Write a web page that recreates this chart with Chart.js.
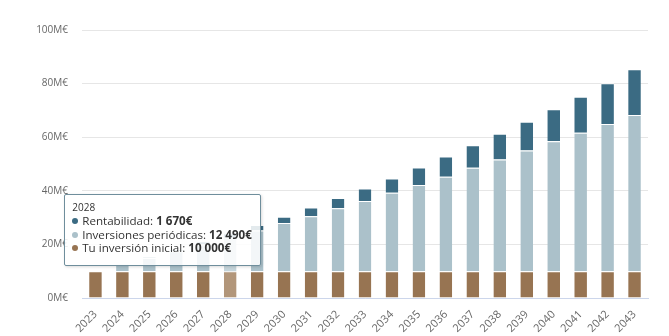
<!DOCTYPE html>
<html lang="es">
<head>
  <meta charset="UTF-8" />
  <title>Simulación de inversión</title>
  <style>
    html, body {
      margin: 0;
      padding: 0;
      background: #fff;
      font-family: "Open Sans", sans-serif;
    }
    #wrap {
      position: relative;
      width: 669px;
      height: 336px;
    }
    #tip {
      position: absolute;
      box-sizing: border-box;
      width: 197px;
      height: 72px;
      background: rgba(255, 255, 255, 0.86);
      border: 1px solid #6f8e9c;
      border-radius: 2px;
      box-shadow: 1px 1px 3px rgba(0, 0, 0, 0.15);
      padding: 6px 4px 6px 7px;
      color: #333;
      font-size: 11.6px;
      line-height: 13.4px;
      white-space: nowrap;
      pointer-events: none;
      display: none;
    }
    #tip .title { font-size: 10px; line-height: 12px; margin-bottom: 1px; }
    #tip .row { height: 13.4px; }
    #tip .dot {
      display: inline-block;
      width: 6px;
      height: 6px;
      border-radius: 50%;
      margin-right: 4px;
      vertical-align: 1px;
    }
    #tip b { font-weight: 700; }
  </style>
</head>
<body>
  <div id="wrap">
    <canvas id="chart" width="669" height="336"></canvas>
    <div id="tip"></div>
  </div>

  <script src="https://cdn.jsdelivr.net/npm/chart.js"></script>
  <script>
    // años y valores (en €)
    const YEARS = ['2023','2024','2025','2026','2027','2028','2029','2030','2031','2032','2033',
                   '2034','2035','2036','2037','2038','2039','2040','2041','2042','2043'];
    const INICIAL = [10000,10000,10000,10000,10000,10000,10000,10000,10000,10000,10000,
                     10000,10000,10000,10000,10000,10000,10000,10000,10000,10000];
    const PERIODICAS = [0,2450,4950,7450,9950,12490,15200,18000,20500,23500,26200,
                        29300,32200,35200,38600,41700,45000,48500,51700,54900,58300];
    const RENTABILIDAD = [0,120,380,750,1180,1670,2000,2300,3300,3800,4700,
                          5300,6500,7600,8400,9600,10800,11900,13400,15200,17100];
    const Y_TICKS = [0, 20000, 40000, 60000, 80000, 100000];
    const ACTIVE = 5; // 2028

    const fmt = v => String(Math.round(v)).replace(/\B(?=(\d{3})+(?!\d))/g, ' ');

    function externalTip(ctx) {
      const el = document.getElementById('tip');
      const tt = ctx.tooltip;
      if (!tt.opacity || !tt.dataPoints || !tt.dataPoints.length) { el.style.display = 'none'; return; }
      const pts = tt.dataPoints.slice().sort((a, b) => b.datasetIndex - a.datasetIndex);
      let html = '<div class="title">' + pts[0].label + '</div>';
      pts.forEach(p => {
        html += '<div class="row"><span class="dot" style="background:' + p.dataset.dotColor + '"></span>' +
                p.dataset.label + ': <b>' + fmt(p.raw) + '€</b></div>';
      });
      el.innerHTML = html;
      el.style.display = 'block';
      const chart = ctx.chart;
      const i = pts[0].dataIndex;
      const x = chart.scales.x.getPixelForValue(i);
      const total = INICIAL[i] + PERIODICAS[i] + RENTABILIDAD[i];
      const y = chart.scales.y.getPixelForValue(total);
      el.style.left = (x - 166) + 'px';
      el.style.top = (y - 39) + 'px';
    }

    const ctx = document.getElementById('chart').getContext('2d');
    const chart = new Chart(ctx, {
      type: 'bar',
      data: {
        labels: YEARS,
        datasets: [
          {
            label: 'Tu inversión inicial',
            data: INICIAL,
            backgroundColor: '#977452',
            hoverBackgroundColor: '#b2967a',
            dotColor: '#977452'
          },
          {
            label: 'Inversiones periódicas',
            data: PERIODICAS,
            backgroundColor: '#abc1ca',
            hoverBackgroundColor: '#c4d4da',
            dotColor: '#abc1ca'
          },
          {
            label: 'Rentabilidad',
            data: RENTABILIDAD,
            backgroundColor: '#3b6b83',
            hoverBackgroundColor: '#5d87a0',
            dotColor: '#3b6b83'
          }
        ]
      },
      options: {
        responsive: false,
        animation: false,
        layout: { padding: { left: 0, right: 21, top: 30, bottom: 0 } },
        datasets: {
          bar: {
            barPercentage: 0.94,
            categoryPercentage: 0.5,
            borderWidth: { top: 1, left: 0, right: 0, bottom: 0 },
            borderColor: '#ffffff',
            borderSkipped: 'bottom'
          }
        },
        scales: {
          x: {
            stacked: true,
            grid: { display: false },
            border: { display: true, color: '#ccd6eb' },
            ticks: {
              color: '#666',
              font: { family: 'Open Sans', size: 11 },
              minRotation: 45,
              maxRotation: 45,
              padding: 2
            },
            afterFit: s => { s.height = 38; }
          },
          y: {
            stacked: true,
            min: 0,
            max: 100000,
            afterBuildTicks: s => { s.ticks = Y_TICKS.map(v => ({ value: v })); },
            grid: { color: '#e6e6e6', drawTicks: false },
            border: { display: false },
            ticks: {
              color: '#666',
              font: { family: 'Open Sans', size: 10 },
              padding: 14,
              callback: v => (v / 1000) + 'M€'
            },
            afterFit: s => { s.width = 82; }
          }
        },
        plugins: {
          legend: { display: false },
          tooltip: {
            enabled: false,
            mode: 'index',
            intersect: false,
            external: externalTip
          }
        }
      }
    });

    const act = [0, 1, 2].map(d => ({ datasetIndex: d, index: ACTIVE }));
    chart.setActiveElements(act);
    chart.tooltip.setActiveElements(act, { x: chart.scales.x.getPixelForValue(ACTIVE), y: 200 });
    chart.update();
  </script>
</body>
</html>
